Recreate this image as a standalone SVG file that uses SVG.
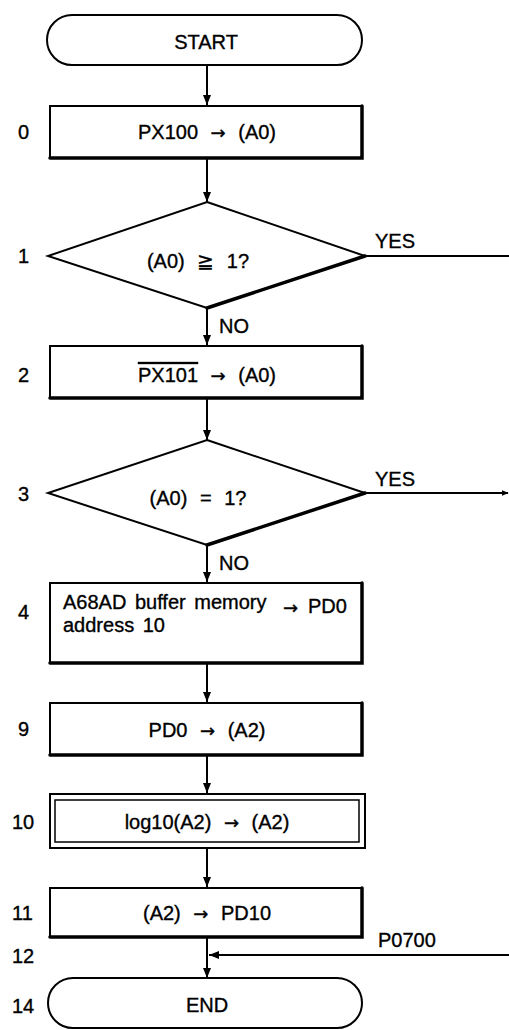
<svg xmlns="http://www.w3.org/2000/svg" width="509" height="1030" viewBox="0 0 509 1030">
  <style>
    .shape { fill: #fff; stroke: #000; stroke-width: 2; }
    .thick { fill: none; stroke: #000; stroke-width: 3.5; stroke-linecap: round; }
    .line { fill: none; stroke: #000; stroke-width: 2; }
    text { font-family: "Liberation Sans", Arial, sans-serif; font-size: 20px; fill: #000; stroke: #000; stroke-width: 0.35; }
    .c { text-anchor: middle; word-spacing: 7px; }
    .ar { font-family: "DejaVu Sans", sans-serif; font-size: 18px; }
  </style>
  <defs>
    <marker id="arrow" viewBox="0 0 10 10" refX="10" refY="5" markerWidth="10" markerHeight="10" markerUnits="userSpaceOnUse" orient="auto">
      <path d="M0,1 L10,5 L0,9 Z" fill="#000"/>
    </marker>
    <marker id="dot" viewBox="0 0 10 10" refX="9" refY="5" markerWidth="7" markerHeight="7" markerUnits="userSpaceOnUse" orient="auto">
      <path d="M0,1 L10,5 L0,9 Z" fill="#000"/>
    </marker>
  </defs>

  <!-- step numbers -->
  <g id="step-numbers">
    <text x="18" y="139">0</text>
    <text x="18" y="263">1</text>
    <text x="18" y="382">2</text>
    <text x="18" y="501">3</text>
    <text x="18" y="619">4</text>
    <text x="18" y="736">9</text>
    <text x="12" y="829">10</text>
    <text x="12" y="920">11</text>
    <text x="12" y="963">12</text>
    <text x="12" y="1013">14</text>
  </g>

  <!-- connectors -->
  <g id="connectors">
    <line class="line" x1="207" y1="66" x2="207" y2="105" marker-end="url(#arrow)"/>
    <line class="line" x1="207" y1="159" x2="207" y2="202" marker-end="url(#arrow)"/>
    <line class="line" x1="207" y1="308" x2="207" y2="345" marker-end="url(#arrow)"/>
    <line class="line" x1="365" y1="256" x2="509" y2="256"/>
    <line class="line" x1="207" y1="399" x2="207" y2="440" marker-end="url(#arrow)"/>
    <line class="line" x1="365" y1="493" x2="508" y2="493" marker-end="url(#dot)"/>
    <line class="line" x1="207" y1="545" x2="207" y2="582" marker-end="url(#arrow)"/>
    <line class="line" x1="207" y1="664" x2="207" y2="702" marker-end="url(#arrow)"/>
    <line class="line" x1="207" y1="756" x2="207" y2="793" marker-end="url(#arrow)"/>
    <line class="line" x1="207" y1="849" x2="207" y2="887" marker-end="url(#arrow)"/>
    <line class="line" x1="207" y1="938" x2="207" y2="978" marker-end="url(#arrow)"/>
    <line class="line" x1="509" y1="955" x2="209" y2="955" marker-end="url(#arrow)"/>
    <text x="375" y="248">YES</text>
    <text x="219" y="333">NO</text>
    <text x="375" y="486">YES</text>
    <text x="219" y="570">NO</text>
    <text x="378" y="947">P0700</text>
  </g>

  <g id="start">
    <rect class="shape" x="47" y="15" width="315" height="50" rx="25"/>
    <text class="c" x="206" y="49">START</text>
  </g>

  <g id="step0">
    <rect class="shape" x="50" y="106" width="312" height="52"/>
    <path class="thick" d="M362,106 V158 H50"/>
    <text class="c" x="207" y="139">PX100 <tspan class="ar">→</tspan> (A0)</text>
  </g>

  <g id="step1">
    <polygon class="shape" points="207,202 365,256 207,308 48,256"/>
    <path class="thick" d="M365,256 L207,308"/>
    <text class="c" x="198" y="268">(A0) ≧ 1?</text>
  </g>

  <g id="step2">
    <rect class="shape" x="50" y="346" width="312" height="52"/>
    <path class="thick" d="M362,346 V398 H50"/>
    <text class="c" x="207" y="382"><tspan text-decoration="overline">PX101</tspan> <tspan class="ar">→</tspan> (A0)</text>
  </g>

  <g id="step3">
    <polygon class="shape" points="207,440 365,493 207,545 48,493"/>
    <path class="thick" d="M365,493 L207,545"/>
    <text class="c" x="198" y="505">(A0) = 1?</text>
  </g>

  <g id="step4">
    <rect class="shape" x="50" y="583" width="312" height="80"/>
    <path class="thick" d="M362,583 V663 H50"/>
    <text x="63" y="609" font-size="19" word-spacing="3">A68AD buffer memory</text>
    <text x="63" y="632" font-size="19" word-spacing="3">address 10</text>
    <text class="ar" x="283" y="614" font-size="15">→</text>
    <text x="308" y="613">PD0</text>
  </g>

  <g id="step9">
    <rect class="shape" x="50" y="703" width="312" height="52"/>
    <path class="thick" d="M362,703 V755 H50"/>
    <text class="c" x="207" y="737">PD0 <tspan class="ar">→</tspan> (A2)</text>
  </g>

  <g id="step10">
    <rect class="shape" x="50" y="794" width="315" height="54"/>
    <rect class="shape" x="55" y="800" width="304" height="42" style="stroke-width:1.5"/>
    <text class="c" x="207" y="829">log10(A2) <tspan class="ar">→</tspan> (A2)</text>
  </g>

  <g id="step11">
    <rect class="shape" x="50" y="888" width="312" height="49"/>
    <path class="thick" d="M362,888 V937 H50"/>
    <text class="c" x="207" y="920">(A2) <tspan class="ar">→</tspan> PD10</text>
  </g>

  <g id="end">
    <rect class="shape" x="48" y="978" width="314" height="50" rx="25"/>
    <text class="c" x="207" y="1012">END</text>
  </g>
</svg>
